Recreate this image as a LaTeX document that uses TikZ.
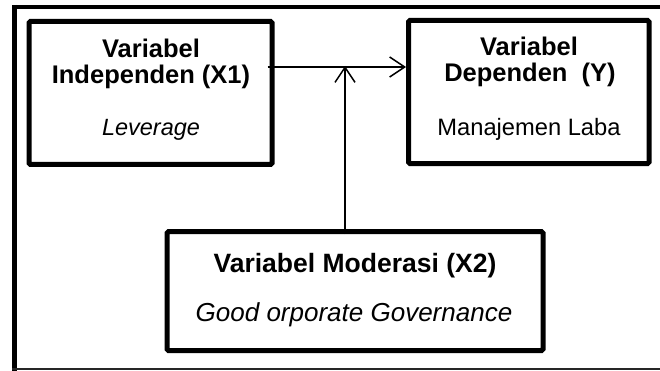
\documentclass[tikz,border=0pt]{standalone}
\usepackage{fontspec}
\setmainfont{Liberation Sans}
\usetikzlibrary{arrows.meta}
\begin{document}
\begin{tikzpicture}[x=1pt,y=-1pt,
  box/.style={draw, line width=5pt, rounded corners=1.5pt, inner sep=0pt},
  lbl/.style={anchor=base, inner sep=0pt},
  topb/.style={lbl, font=\fontsize{25.5}{25.5}\selectfont\bfseries},
  conn/.style={line width=1.5pt, -{Straight Barb[length=15pt,width=20pt,line width=1.5pt]}}]
\useasboundingbox (0,0) rectangle (660,371);
\fill[white] (0,0) rectangle (660,371);
% outer frame
\draw[line width=5pt] (14,5) -- (14,370.5);
\draw[line width=4pt] (12,7) -- (665,7);
\draw[line width=2.5pt, black!85] (12,369) -- (665,369);
% boxes
\node[box, minimum width=243pt, minimum height=143pt] (lb) at (150.5,93) {};
\node[box, minimum width=240.5pt, minimum height=143.2pt] (rb) at (528.75,92.1) {};
\node[box, minimum width=376pt, minimum height=118.8pt] (bb) at (355,291.1) {};
% texts
\node[topb] (l1) at (151,58) {Variabel};
\node[topb] (l2) at (151,84) {Independen (X1)};
\node[lbl, font=\fontsize{23.5}{23.5}\selectfont\itshape] (l3) at (151,136) {Leverage};
\node[topb] (r1) at (529,56) {Variabel};
\node[topb] (r2) at (530,82) {Dependen \ (Y)};
\node[lbl, font=\fontsize{23.7}{23.7}\selectfont] (r3) at (529,136) {Manajemen Laba};
\node[lbl, font=\fontsize{26.5}{26.5}\selectfont\bfseries] (b1) at (355,272) {Variabel Moderasi (X2)};
\node[lbl, font=\fontsize{26}{26}\selectfont\itshape] (b2) at (354,321) {Good orporate Governance};
% connectors
\coordinate (m) at (345,67);
\draw[conn] ([xshift=-7pt]lb.east |- m) -- (rb.west |- m);
\draw[conn] ([yshift=-5pt]bb.north -| m) -- ([yshift=1pt]m);
\end{tikzpicture}
\end{document}
